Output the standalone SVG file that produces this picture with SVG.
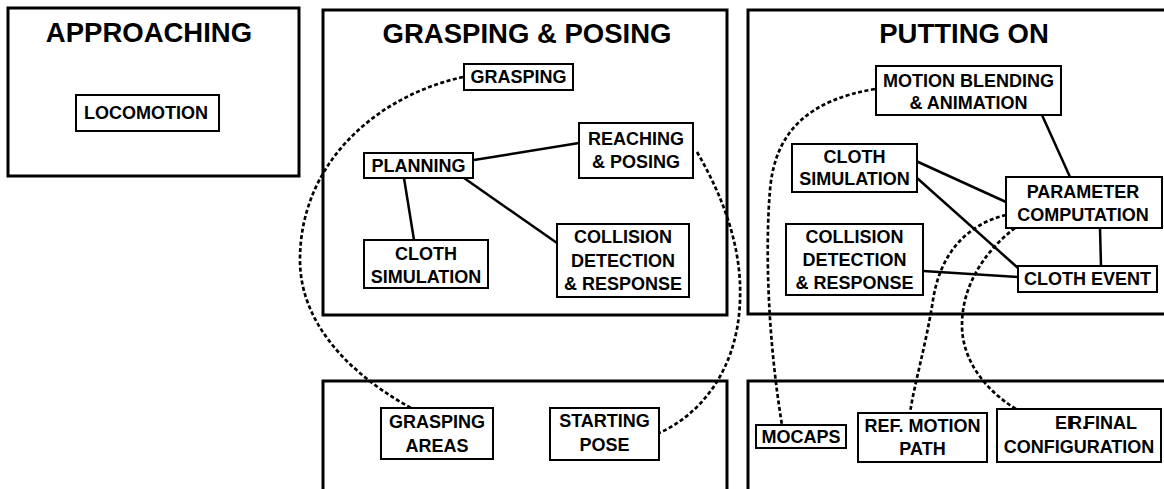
<svg xmlns="http://www.w3.org/2000/svg" width="1164" height="489" viewBox="0 0 1164 489">
<style>
  .region { fill: #fff; stroke: #000; stroke-width: 3; }
  .box { fill: #fff; stroke: #000; stroke-width: 2; }
  .title { font-family: "Liberation Sans", Arial, sans-serif; font-weight: bold; font-size: 27.5px; text-anchor: middle; fill: #000; }
  .lbl { font-family: "Liberation Sans", Arial, sans-serif; font-weight: bold; font-size: 18px; text-anchor: middle; fill: #000; }
  .lblL { font-family: "Liberation Sans", Arial, sans-serif; font-weight: bold; font-size: 18px; fill: #000; }
  .solid { fill: none; stroke: #000; stroke-width: 2.5; }
  .dash { fill: none; stroke: #000; stroke-width: 2.7; stroke-dasharray: 4 2.5; }
</style>
<rect width="1164" height="489" fill="#fff"/>

<g id="region-approaching">
  <rect class="region" x="8" y="8" width="291" height="168"/>
  <text class="title" x="149" y="42">APPROACHING</text>
</g>
<g id="region-grasping-posing">
  <rect class="region" x="323" y="10" width="404" height="305"/>
  <text class="title" x="527" y="43">GRASPING &amp; POSING</text>
</g>
<g id="region-putting-on">
  <rect class="region" x="748" y="10" width="430" height="304"/>
  <text class="title" x="964" y="43">PUTTING ON</text>
</g>
<g id="region-grasp-data">
  <rect class="region" x="323" y="381" width="404" height="130"/>
</g>
<g id="region-puton-data">
  <rect class="region" x="748" y="381" width="430" height="130"/>
</g>

<g id="connectors">
  <line class="solid" x1="474" y1="160" x2="579" y2="143"/>
  <line class="solid" x1="404" y1="178" x2="414" y2="240"/>
  <line class="solid" x1="464" y1="178" x2="557" y2="243"/>
  <line class="solid" x1="1042" y1="115" x2="1070" y2="177"/>
  <line class="solid" x1="916" y1="161" x2="1006" y2="202"/>
  <line class="solid" x1="917" y1="178" x2="1018" y2="268"/>
  <line class="solid" x1="923" y1="271" x2="1018" y2="277"/>
  <line class="solid" x1="1100" y1="228" x2="1101" y2="266"/>
  <path class="dash" d="M 463 77 C 380 95, 300 160, 300 260 C 300 330, 360 380, 411 408"/>
  <path class="dash" d="M 697 152 C 725 200, 742 250, 740 300 C 738 370, 700 415, 659 433"/>
  <path class="dash" d="M 875 89 C 810 100, 775 130, 770 190 C 765 250, 768 340, 782 425"/>
  <path class="dash" d="M 1006 215 C 965 225, 940 255, 933 300 C 926 345, 914 385, 910 413"/>
  <path class="dash" d="M 1015 228 C 980 255, 962 290, 962 325 C 962 360, 985 390, 1016 409"/>
</g>

<g id="node-locomotion">
  <rect class="box" x="76" y="95" width="143" height="36"/>
  <text class="lbl" x="146" y="119">LOCOMOTION</text>
</g>
<g id="node-grasping">
  <rect class="box" x="464" y="64" width="109" height="26"/>
  <text class="lbl" x="518.5" y="83">GRASPING</text>
</g>
<g id="node-reaching">
  <rect class="box" x="579" y="123" width="114" height="55"/>
  <text class="lbl" x="636" y="145">REACHING</text>
  <text class="lbl" x="636" y="168">&amp; POSING</text>
</g>
<g id="node-planning">
  <rect class="box" x="364" y="153" width="109" height="25"/>
  <text class="lbl" x="418.5" y="172">PLANNING</text>
</g>
<g id="node-cloth-sim-1">
  <rect class="box" x="364" y="240" width="124" height="48"/>
  <text class="lbl" x="426" y="260">CLOTH</text>
  <text class="lbl" x="426" y="283">SIMULATION</text>
</g>
<g id="node-collision-1">
  <rect class="box" x="557" y="224" width="132" height="73"/>
  <text class="lbl" x="623" y="243">COLLISION</text>
  <text class="lbl" x="623" y="267">DETECTION</text>
  <text class="lbl" x="623" y="290">&amp; RESPONSE</text>
</g>
<g id="node-grasping-areas">
  <rect class="box" x="381" y="408" width="112" height="51"/>
  <text class="lbl" x="437" y="428">GRASPING</text>
  <text class="lbl" x="437" y="452">AREAS</text>
</g>
<g id="node-starting-pose">
  <rect class="box" x="550" y="408" width="109" height="52"/>
  <text class="lbl" x="604.5" y="427">STARTING</text>
  <text class="lbl" x="604.5" y="451">POSE</text>
</g>
<g id="node-motion-blending">
  <rect class="box" x="876" y="66" width="185" height="49"/>
  <text class="lbl" x="968.5" y="87">MOTION BLENDING</text>
  <text class="lbl" x="968.5" y="109">&amp; ANIMATION</text>
</g>
<g id="node-cloth-sim-2">
  <rect class="box" x="792" y="144" width="125" height="48"/>
  <text class="lbl" x="854.5" y="163">CLOTH</text>
  <text class="lbl" x="854.5" y="185">SIMULATION</text>
</g>
<g id="node-parameter">
  <rect class="box" x="1006" y="177" width="156" height="51"/>
  <text class="lbl" x="1083" y="198">PARAMETER</text>
  <text class="lbl" x="1083" y="221">COMPUTATION</text>
</g>
<g id="node-collision-2">
  <rect class="box" x="786" y="224" width="137" height="71"/>
  <text class="lbl" x="854.5" y="243">COLLISION</text>
  <text class="lbl" x="854.5" y="266">DETECTION</text>
  <text class="lbl" x="854.5" y="289">&amp; RESPONSE</text>
</g>
<g id="node-cloth-event">
  <rect class="box" x="1018" y="266" width="139" height="26"/>
  <text class="lbl" x="1087.5" y="285">CLOTH EVENT</text>
</g>
<g id="node-mocaps">
  <rect class="box" x="756" y="425" width="90" height="23"/>
  <text class="lbl" x="801" y="443">MOCAPS</text>
</g>
<g id="node-ref-motion">
  <rect class="box" x="858" y="413" width="129" height="49"/>
  <text class="lbl" x="922.5" y="432">REF. MOTION</text>
  <text class="lbl" x="922.5" y="455">PATH</text>
</g>
<g id="node-final-config">
  <rect class="box" x="997" y="409" width="164" height="53"/>
  <text class="lblL" x="1055" y="429">EF<tspan dx="-9">R.</tspan><tspan dx="-3">FINAL</tspan></text>
  <text class="lbl" x="1079" y="453">CONFIGURATION</text>
</g>
</svg>
